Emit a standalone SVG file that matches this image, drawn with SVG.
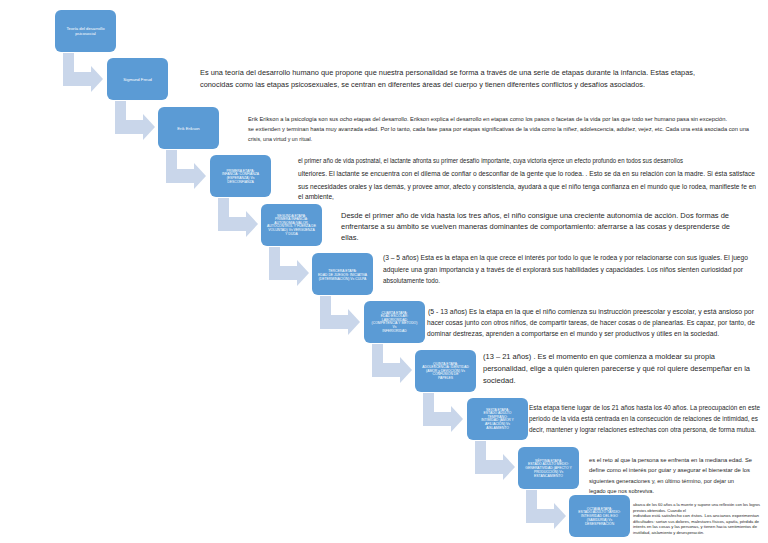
<svg xmlns="http://www.w3.org/2000/svg" xmlns:xlink="http://www.w3.org/1999/xlink" width="768" height="543" viewBox="0 0 768 543">
<style>
.box{fill:#5B9BD5;}
.arr{fill:#C9D6EA;}
.bt{font-family:"Liberation Sans",Arial,sans-serif;fill:#ffffff;text-anchor:middle;font-size:3.4px;}
.bt1{font-size:4.2px;}
.t{font-family:"Liberation Sans",Arial,sans-serif;fill:#1f1f1f;}
</style>
<defs>
<polygon id="arrow" class="arr" points="8,43 19,43 19,62 36,62 36,56 48,69 36,82 36,76 8,76"/>
</defs>
<rect width="768" height="543" fill="#ffffff"/>
<g id="connectors">
<use xlink:href="#arrow" href="#arrow" transform="translate(55,10)"/>
<use xlink:href="#arrow" href="#arrow" transform="translate(107,58)"/>
<use xlink:href="#arrow" href="#arrow" transform="translate(158,107)"/>
<use xlink:href="#arrow" href="#arrow" transform="translate(210,155)"/>
<use xlink:href="#arrow" href="#arrow" transform="translate(261,204)"/>
<use xlink:href="#arrow" href="#arrow" transform="translate(312,253)"/>
<use xlink:href="#arrow" href="#arrow" transform="translate(364,301)"/>
<use xlink:href="#arrow" href="#arrow" transform="translate(415,350)"/>
<use xlink:href="#arrow" href="#arrow" transform="translate(467,398)"/>
<use xlink:href="#arrow" href="#arrow" transform="translate(518,447)"/>
</g>
<g id="n1">
<rect class="box" x="55" y="10" width="61" height="42" rx="6"/>
<text class="bt bt1"><tspan x="85.5" y="30">Teoría del desarrollo</tspan><tspan x="85.5" y="35">psicosocial</tspan></text>
</g>
<g id="n2">
<rect class="box" x="107" y="58" width="61" height="42" rx="6"/>
<text class="bt bt1" x="137.5" y="80.5">Sigmund Freud</text>
</g>
<g id="n3">
<rect class="box" x="158" y="107" width="61" height="42" rx="6"/>
<text class="bt bt1" x="188.5" y="129.5">Erik Erikson</text>
</g>
<g id="n4">
<rect class="box" x="210" y="155" width="61" height="42" rx="6"/>
<text class="bt"><tspan x="240.5" y="171.5">PRIMERA ETAPA:</tspan><tspan x="240.5" y="175.3">INFANCIA: CONFIANZA</tspan><tspan x="240.5" y="179.1">(ESPERANZA) Vs</tspan><tspan x="240.5" y="182.9">DESCONFIANZA</tspan></text>
</g>
<g id="n5">
<rect class="box" x="261" y="204" width="61" height="42" rx="6"/>
<text class="bt"><tspan x="291.5" y="216.5">SEGUNDA ETAPA:</tspan><tspan x="291.5" y="220.1">PRIMERA INFANCIA:</tspan><tspan x="291.5" y="223.7">AUTONOMÍA (VALOR,</tspan><tspan x="291.5" y="227.3">AUTOCONTROL Y FUERZA DE</tspan><tspan x="291.5" y="230.9">VOLUNTAD) Vs VERGÜENZA</tspan><tspan x="291.5" y="234.5">Y DUDA</tspan></text>
</g>
<g id="n6">
<rect class="box" x="312" y="253" width="61" height="42" rx="6"/>
<text class="bt"><tspan x="342.5" y="272">TERCERA ETAPA:</tspan><tspan x="342.5" y="275.8">EDAD DE JUEGOS: INICIATIVA</tspan><tspan x="342.5" y="279.6">(DETERMINACIÓN) Vs CULPA</tspan></text>
</g>
<g id="n7">
<rect class="box" x="364" y="301" width="61" height="42" rx="6"/>
<text class="bt"><tspan x="394.5" y="313.5">CUARTA ETAPA:</tspan><tspan x="394.5" y="317.1">EDAD ESCOLAR:</tspan><tspan x="394.5" y="320.7">LABORIOSIDAD</tspan><tspan x="394.5" y="324.3">(COMPETENCIA Y MÉTODO)</tspan><tspan x="394.5" y="327.9">Vs</tspan><tspan x="394.5" y="331.5">INFERIORIDAD</tspan></text>
</g>
<g id="n8">
<rect class="box" x="415" y="350" width="61" height="42" rx="6"/>
<text class="bt"><tspan x="445.5" y="364.5">QUINTA ETAPA:</tspan><tspan x="445.5" y="368.1">ADOLESCENCIA: IDENTIDAD</tspan><tspan x="445.5" y="371.7">(AMOR y DEVOCIÓN) Vs</tspan><tspan x="445.5" y="375.3">CONFUSIÓN DE</tspan><tspan x="445.5" y="378.9">PAPELES</tspan></text>
</g>
<g id="n9">
<rect class="box" x="467" y="398" width="61" height="42" rx="6"/>
<text class="bt"><tspan x="497.5" y="410.5">SEXTA ETAPA:</tspan><tspan x="497.5" y="414.1">ESTADO ADULTO</tspan><tspan x="497.5" y="417.7">TEMPRANO:</tspan><tspan x="497.5" y="421.3">INTIMIDAD (AMOR Y</tspan><tspan x="497.5" y="424.9">AFILIACIÓN) Vs</tspan><tspan x="497.5" y="428.5">AISLAMIENTO</tspan></text>
</g>
<g id="n10">
<rect class="box" x="518" y="447" width="61" height="42" rx="6"/>
<text class="bt"><tspan x="548.5" y="461.5">SÉPTIMA ETAPA:</tspan><tspan x="548.5" y="465.3">ESTADO ADULTO MEDIO:</tspan><tspan x="548.5" y="469.1">GENERATIVIDAD (AFECTO Y</tspan><tspan x="548.5" y="472.9">PRODUCCIÓN) Vs</tspan><tspan x="548.5" y="476.7">ESTANCAMIENTO</tspan></text>
</g>
<g id="n11">
<rect class="box" x="569" y="495" width="61" height="42" rx="6"/>
<text class="bt"><tspan x="599.5" y="509.5">OCTAVA ETAPA:</tspan><tspan x="599.5" y="513.3">ESTADO ADULTO TARDÍO:</tspan><tspan x="599.5" y="517.1">INTEGRIDAD DEL EGO</tspan><tspan x="599.5" y="520.9">(SABIDURÍA) Vs</tspan><tspan x="599.5" y="524.7">DESESPERACIÓN</tspan></text>
</g>
<g id="texts">
<g class="t" font-size="7.6">
<text x="200" y="75" textLength="495" lengthAdjust="spacingAndGlyphs">Es una teoría del desarrollo humano que propone que nuestra personalidad se forma a través de una serie de etapas durante la infancia. Estas etapas,</text>
<text x="200" y="86.5" textLength="445" lengthAdjust="spacingAndGlyphs">conocidas como las etapas psicosexuales, se centran en diferentes áreas del cuerpo y tienen diferentes conflictos y desafíos asociados.</text>
</g>
<g class="t" font-size="5.3">
<text x="248" y="121" textLength="479" lengthAdjust="spacingAndGlyphs">Erik Erikson a la psicología son sus ocho etapas del desarrollo. Erikson explica el desarrollo en etapas como los pasos o facetas de la vida por las que todo ser humano pasa sin excepción.</text>
<text x="248" y="131" textLength="501" lengthAdjust="spacingAndGlyphs">se extienden y terminan hasta muy avanzada edad. Por lo tanto, cada fase pasa por etapas significativas de la vida como la niñez, adolescencia, adultez, vejez, etc. Cada una está asociada con una</text>
<text x="248" y="141">crisis, una virtud y un ritual.</text>
</g>
<g class="t" font-size="6.6">
<text x="298" y="163" textLength="385" lengthAdjust="spacingAndGlyphs">el primer año de vida postnatal, el lactante afronta su primer desafío importante, cuya victoria ejerce un efecto profundo en todos sus desarrollos</text>
<text x="298" y="176" textLength="457" lengthAdjust="spacingAndGlyphs">ulteriores.  El lactante se encuentra con el dilema de confiar o desconfiar de la gente que lo rodea. . Esto se da en su relación con la madre. Si ésta satisface</text>
<text x="298" y="188.5" textLength="458" lengthAdjust="spacingAndGlyphs">sus necesidades orales y las demás, y provee amor, afecto y consistencia, ayudará a que el niño tenga confianza en el mundo que lo rodea, manifieste fe en</text>
<text x="298" y="199">el ambiente,</text>
</g>
<g class="t" font-size="7.6">
<text x="341" y="218" textLength="388" lengthAdjust="spacingAndGlyphs">Desde el primer año de vida hasta los tres años, el niño consigue una creciente autonomía de acción. Dos formas de</text>
<text x="341" y="229" textLength="389" lengthAdjust="spacingAndGlyphs">enfrentarse a su ámbito se vuelven maneras dominantes de comportamiento: aferrarse a las cosas y desprenderse de</text>
<text x="341" y="240">ellas.</text>
</g>
<g class="t" font-size="6.3">
<text x="383" y="260" textLength="365" lengthAdjust="spacingAndGlyphs">(3 – 5 años) Esta es la etapa en la que crece el interés por todo lo que le rodea y por relacionarse con sus iguales. El juego</text>
<text x="383" y="271.5" textLength="360" lengthAdjust="spacingAndGlyphs">adquiere una gran importancia y a través de él explorará sus habilidades y capacidades. Los niños sienten curiosidad por</text>
<text x="383" y="283">absolutamente todo.</text>
</g>
<g class="t" font-size="6.5">
<text x="428" y="314" textLength="326" lengthAdjust="spacingAndGlyphs">(5 - 13  años) Es la etapa en la que el niño comienza su instrucción preescolar y escolar, y está ansioso por</text>
<text x="427" y="325" textLength="328" lengthAdjust="spacingAndGlyphs">hacer cosas junto con otros niños, de compartir tareas, de hacer cosas o de planearlas. Es capaz, por tanto, de</text>
<text x="427" y="336" textLength="292" lengthAdjust="spacingAndGlyphs">dominar destrezas, aprenden a comportarse en el mundo y ser productivos y útiles en la sociedad.</text>
</g>
<g class="t" font-size="7.6">
<text x="483" y="359" textLength="232" lengthAdjust="spacingAndGlyphs">(13 – 21 años) . Es el momento en que comienza a moldear su propia</text>
<text x="483" y="371" textLength="267" lengthAdjust="spacingAndGlyphs">personalidad, elige a quién quieren parecerse y qué rol quiere desempeñar en la</text>
<text x="483" y="383">sociedad.</text>
</g>
<g class="t" font-size="6.3">
<text x="529" y="410" textLength="231" lengthAdjust="spacingAndGlyphs">Esta etapa tiene lugar de los 21 años hasta los 40 años.  La preocupación en este</text>
<text x="529" y="421" textLength="229" lengthAdjust="spacingAndGlyphs">periodo de la vida está centrada en la consecución de relaciones de intimidad, es</text>
<text x="529" y="432" textLength="227" lengthAdjust="spacingAndGlyphs">decir, mantener y lograr relaciones estrechas con otra persona, de forma mutua.</text>
</g>
<g class="t" font-size="6">
<text x="589" y="461.5" textLength="163" lengthAdjust="spacingAndGlyphs">es el reto al que la persona se enfrenta en la mediana edad. Se</text>
<text x="589" y="472" textLength="161" lengthAdjust="spacingAndGlyphs">define como el interés por guiar y asegurar el bienestar de los</text>
<text x="589" y="482.5" textLength="145" lengthAdjust="spacingAndGlyphs">siguientes generaciones y, en último término, por dejar un</text>
<text x="589" y="493" textLength="65" lengthAdjust="spacingAndGlyphs">legado que nos sobreviva.</text>
</g>
<g class="t" font-size="4.1">
<text x="633" y="506" textLength="127" lengthAdjust="spacingAndGlyphs">abarca de los 60 años a la muerte y supone una reflexión con los logros</text>
<text x="633" y="511.5">previos obtenidos. Cuando el</text>
<text x="633" y="517" textLength="126" lengthAdjust="spacingAndGlyphs">individuo está satisfecho con éstos. Los ancianos experimentan</text>
<text x="633" y="522.5" textLength="126" lengthAdjust="spacingAndGlyphs">dificultades: sortan sus dolores, malestares físicos, apatía, pérdida de</text>
<text x="633" y="528" textLength="124" lengthAdjust="spacingAndGlyphs">interés en las cosas y las personas, y tienen hacia sentimientos de</text>
<text x="633" y="533.5">inutilidad, aislamiento y desesperación.</text>
</g>
</g>
</svg>
